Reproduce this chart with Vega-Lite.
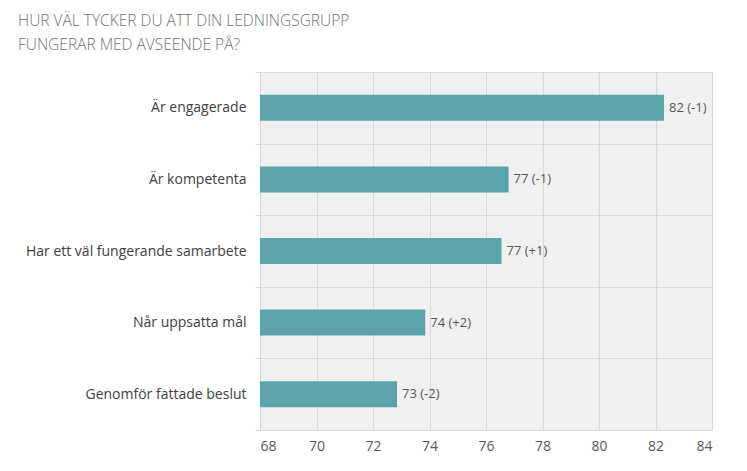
{
  "$schema": "https://vega.github.io/schema/vega-lite/v6.json",
  "width": 452,
  "height": 358,
  "autosize": {"type": "none"},
  "padding": {"left": 260, "top": 72, "right": 35, "bottom": 41},
  "background": "white",
  "title": {
    "text": ["HUR VÄL TYCKER DU ATT DIN LEDNINGSGRUPP", "FUNGERAR MED AVSEENDE PÅ?"],
    "anchor": "start",
    "frame": "group",
    "dx": -242,
    "offset": 12,
    "font": "Open Sans",
    "fontSize": 15.5,
    "fontWeight": 300,
    "color": "#737373",
    "lineHeight": 24
  },
  "data": {
    "values": [
      {"item": "Är engagerade", "value": 82.3, "label": "82 (-1)"},
      {"item": "Är kompetenta", "value": 76.8, "label": "77 (-1)"},
      {"item": "Har ett väl fungerande samarbete", "value": 76.55, "label": "77 (+1)"},
      {"item": "Når uppsatta mål", "value": 73.85, "label": "74 (+2)"},
      {"item": "Genomför fattade beslut", "value": 72.85, "label": "73 (-2)"}
    ]
  },
  "encoding": {
    "y": {
      "field": "item",
      "type": "nominal",
      "sort": null,
      "scale": {"paddingInner": 0, "paddingOuter": 0},
      "axis": {
        "title": null,
        "tickBand": "extent",
        "grid": true,
        "gridColor": "#d9d9d9",
        "ticks": true,
        "tickSize": 5,
        "tickColor": "#d9d9d9",
        "domain": false,
        "labelFont": "Open Sans",
        "labelFontSize": 14,
        "labelColor": "#404040",
        "labelPadding": 9,
        "labelLimit": 300
      }
    }
  },
  "layer": [
    {
      "mark": {"type": "bar", "color": "#5ba4a9", "size": 26},
      "encoding": {
        "x": {
          "field": "value",
          "type": "quantitative",
          "scale": {"domain": [68, 84], "zero": false, "nice": false},
          "axis": {
            "title": null,
            "values": [68, 70, 72, 74, 76, 78, 80, 82, 84],
            "grid": true,
            "gridColor": "#d9d9d9",
            "ticks": false,
            "domain": false,
            "labelFont": "Open Sans",
            "labelFontSize": 14,
            "labelColor": "#595959",
            "labelPadding": 9
          }
        },
        "x2": {"datum": 68}
      }
    },
    {
      "mark": {"type": "text", "align": "left", "dx": 5, "font": "Open Sans", "fontSize": 13, "color": "#595959"},
      "encoding": {
        "x": {"field": "value", "type": "quantitative"},
        "text": {"field": "label"}
      }
    }
  ],
  "config": {
    "view": {"stroke": null, "fill": "#f0f0f0"}
  }
}
